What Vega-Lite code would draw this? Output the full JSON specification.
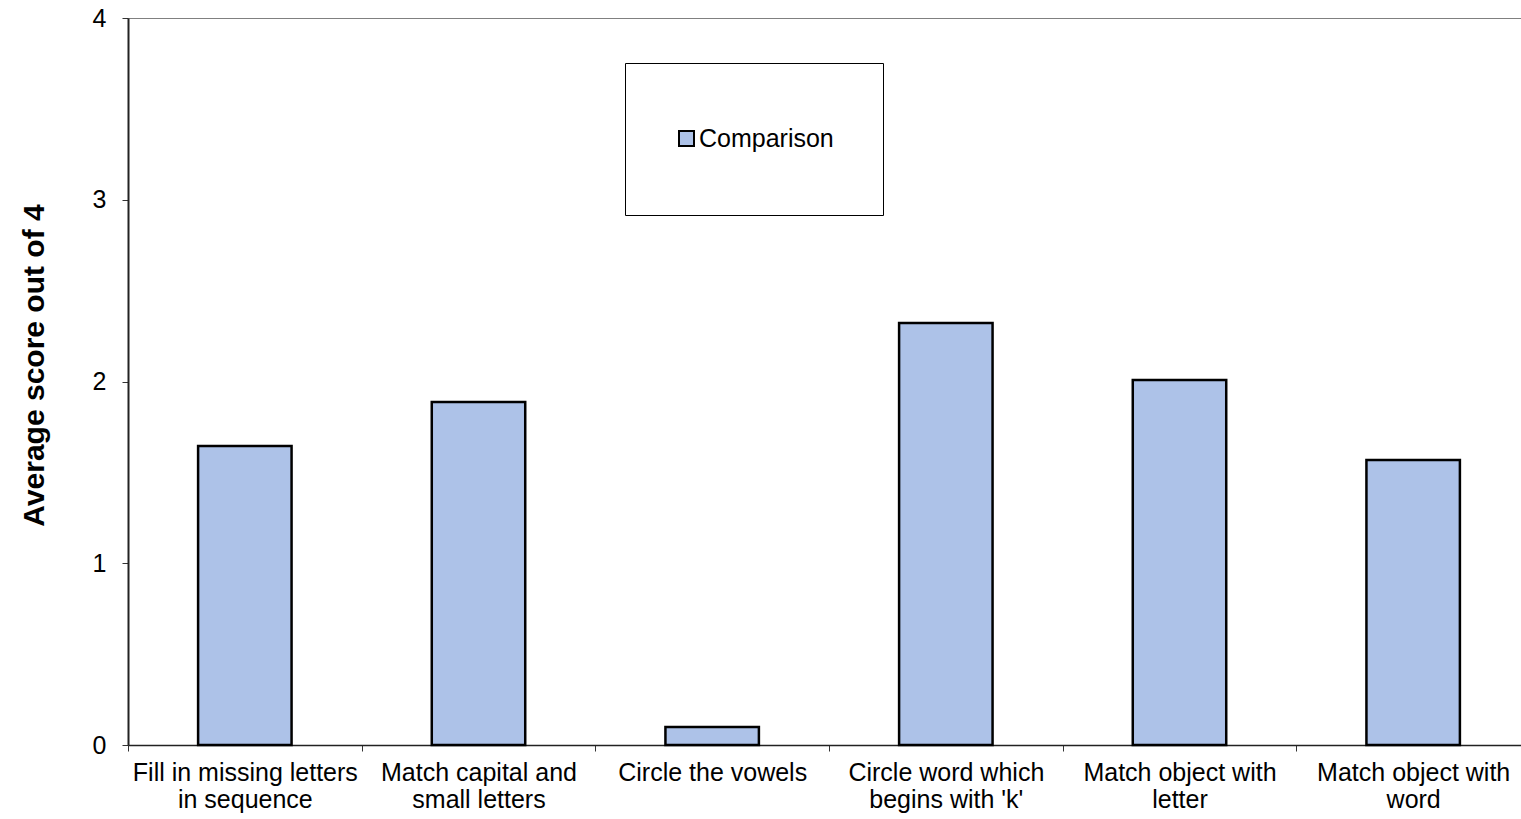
{
  "$schema": "https://vega.github.io/schema/vega-lite/v6.json",
  "width": 1393,
  "height": 727,
  "autosize": {"type": "none"},
  "padding": {"left": 128, "top": 18, "right": 0, "bottom": 74},
  "background": "white",
  "config": {
    "font": "Liberation Sans",
    "view": {"stroke": "#808080", "strokeWidth": 1},
    "style": {"guide-label": {"lineHeight": 14}}
  },
  "data": {
    "values": [
      {"task": "Fill in missing letters\nin sequence", "score": 1.645},
      {"task": "Match capital and\nsmall letters", "score": 1.887},
      {"task": "Circle the vowels", "score": 0.099},
      {"task": "Circle word which\nbegins with 'k'", "score": 2.322},
      {"task": "Match object with\nletter", "score": 2.008},
      {"task": "Match object with\nword", "score": 1.568}
    ]
  },
  "mark": {"type": "bar", "width": {"band": 0.4}, "stroke": "black", "strokeWidth": 2.5},
  "encoding": {
    "x": {
      "field": "task",
      "type": "nominal",
      "sort": null,
      "scale": {"range": [0, 1402], "paddingInner": 0, "paddingOuter": 0},
      "axis": {
        "title": null,
        "labelAngle": 0,
        "labelExpr": "split(datum.label, '\\n')",
        "labelFontSize": 25,
        "labelColor": "black",
        "labelLineHeight": 27,
        "labelLimit": 0,
        "labelPadding": 9,
        "tickBand": "extent",
        "tickSize": 6,
        "tickColor": "#333333",
        "domainColor": "#222222",
        "domainWidth": 1.5
      }
    },
    "y": {
      "field": "score",
      "type": "quantitative",
      "scale": {"domain": [0, 4]},
      "axis": {
        "title": "Average score out of 4",
        "titleFontSize": 30,
        "titleFontWeight": "bold",
        "titleColor": "black",
        "titlePadding": 43,
        "titleY": 347,
        "values": [0, 1, 2, 3, 4],
        "grid": false,
        "labelFontSize": 25,
        "labelColor": "black",
        "labelPadding": 16,
        "tickSize": 6,
        "tickColor": "#333333",
        "domainColor": "#222222",
        "domainWidth": 2
      }
    },
    "color": {
      "datum": "Comparison",
      "type": "nominal",
      "scale": {"range": ["#adc2e8"]},
      "legend": {
        "title": " ",
        "titleFontSize": 8,
        "titlePadding": 6,
        "orient": "none",
        "legendX": 497,
        "legendY": 45,
        "strokeColor": "black",
        "fillColor": "white",
        "padding": 49,
        "symbolType": "square",
        "symbolSize": 225,
        "symbolStrokeColor": "black",
        "symbolStrokeWidth": 2,
        "labelFontSize": 25,
        "labelExpr": "[datum.label, '']",
        "labelColor": "black",
        "labelOffset": 0
      }
    }
  }
}
